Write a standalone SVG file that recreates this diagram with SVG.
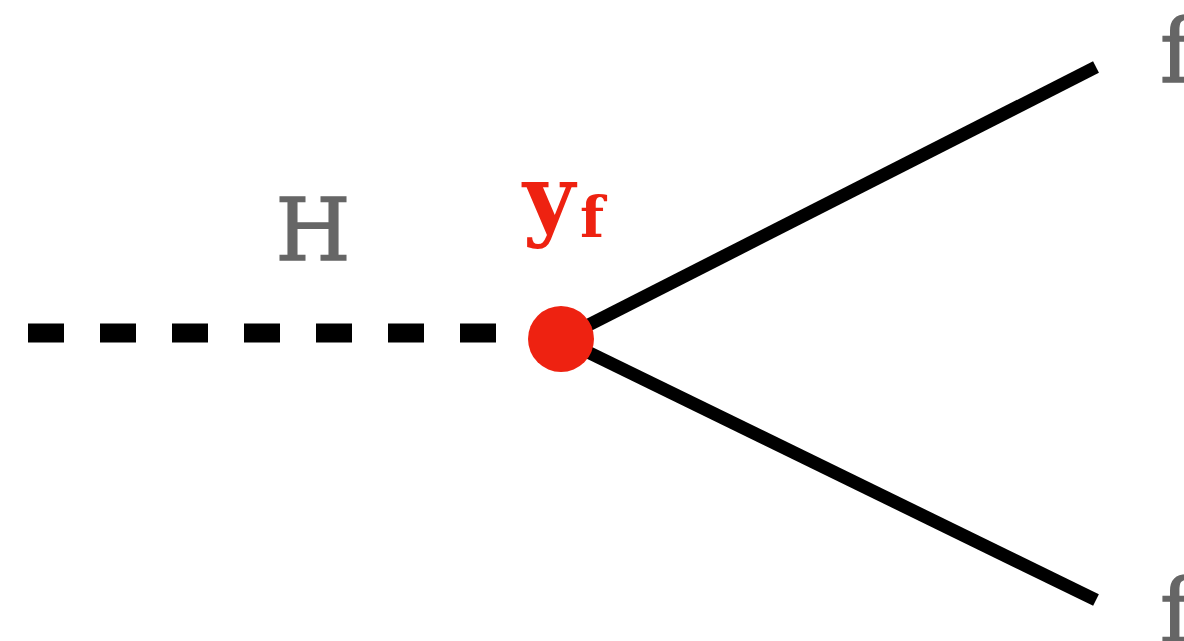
<svg xmlns="http://www.w3.org/2000/svg" width="1184" height="641" viewBox="0 0 1184 641">
<style>
.lbl{font-family:"DejaVu Serif","Liberation Serif",serif;fill:#666666;stroke:#666666;stroke-width:1.5}
.red{font-family:"DejaVu Serif","Liberation Serif",serif;fill:#ee2211;font-weight:bold}
.line{stroke:#000;stroke-width:13;fill:none}
.dash{stroke:#000;stroke-width:19;stroke-dasharray:36 36;fill:none}
</style>
<rect width="1184" height="641" fill="#fff"/>
<g id="connectors">
<line class="dash" x1="28" y1="333" x2="520" y2="333"/>
<line class="line" x1="561" y1="339" x2="1096" y2="67"/>
<line class="line" x1="561" y1="339" x2="1096" y2="600"/>
</g>
<g id="H"><text class="lbl" x="313" y="260" font-size="86" text-anchor="middle">H</text></g>
<g id="vertex">
<circle cx="561" cy="339" r="33" fill="#ee2211"/>
<text class="red" x="549" y="229" font-size="90" text-anchor="middle">y</text>
<text class="red" x="592" y="237" font-size="56" text-anchor="middle">f</text>
</g>
<g id="f1"><text class="lbl" x="1160" y="82" font-size="88">f</text></g>
<g id="f2"><text class="lbl" x="1160" y="642" font-size="88">f</text></g>
</svg>
